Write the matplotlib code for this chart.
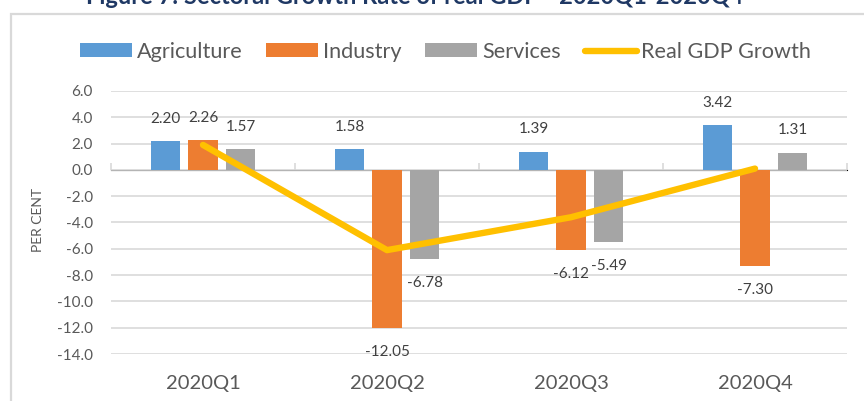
import numpy as np
import matplotlib.pyplot as plt
from matplotlib.patches import Rectangle

plt.rcParams['font.family'] = ['Lato', 'DejaVu Sans']

# data
quarters = ['2020Q1', '2020Q2', '2020Q3', '2020Q4']
agriculture = [2.20, 1.58, 1.39, 3.42]
industry = [2.26, -12.05, -6.12, -7.30]
services = [1.57, -6.78, -5.49, 1.31]
real_gdp = [1.9, -6.1, -3.6, 0.1]

series_names = ['Agriculture', 'Industry', 'Services']
series_colors = ['#5B9BD5', '#ED7D31', '#A5A5A5']
grid_col = '#D9D9D9'
txt_col = '#595959'

fig = plt.figure(figsize=(8.64, 4.01), dpi=100)
ax = fig.add_axes([111/864, 1 - 354/401, (847 - 111)/864, (354 - 91)/401])

x = np.arange(len(quarters))
w = 0.16
step = 0.204
bars = []
for i, (vals, name, col) in enumerate(zip([agriculture, industry, services], series_names, series_colors)):
    b = ax.bar(x + (i - 1) * step, vals, w, color=col, label=name, zorder=2)
    bars.append(b)
    for xi, v in zip(x + (i - 1) * step, vals):
        off = 16 if v >= 0 else -17
        ax.annotate(f'{v:.2f}', (xi, v), xytext=(0, off), textcoords='offset points',
                    ha='center', va='center', fontsize=11, color='#404040')

line, = ax.plot(x, real_gdp, color='#FFC000', lw=4.6, solid_capstyle='round',
                solid_joinstyle='round', label='Real GDP Growth', zorder=3)

ax.set_xlim(-0.5, 3.5)
ax.set_ylim(-14, 6)
ax.set_yticks(np.arange(-14, 7, 2))
ax.yaxis.set_major_formatter(plt.FormatStrFormatter('%.1f'))
ax.grid(axis='y', color=grid_col, lw=1.2, zorder=0)
ax.set_axisbelow(True)
for s in ax.spines.values():
    s.set_visible(False)
ax.tick_params(axis='y', length=0, pad=13, labelsize=11, labelcolor=txt_col)
ax.set_xticks(x)
ax.set_xticklabels(quarters)
ax.tick_params(axis='x', length=0, pad=15, labelsize=14.5, labelcolor=txt_col)

# category axis drawn at zero with boundary ticks
sec = ax.secondary_xaxis(14 / 20)
sec.set_xticks(np.arange(-0.5, 4, 1))
sec.set_xticklabels([])
sec.tick_params(direction='out', length=5, color=grid_col, width=1.2)
sec.spines['bottom'].set_color(grid_col)
sec.spines['bottom'].set_linewidth(1.2)

fig.text(38/864, 1 - 220/401, 'PER CENT', rotation=90, ha='center', va='center',
         fontsize=10, color=txt_col)

fig.legend(handles=bars + [line], labels=series_names + ['Real GDP Growth'],
           loc='center left', bbox_to_anchor=(80/864, 1 - 52/401), ncol=4, frameon=False,
           fontsize=15.6, labelcolor=txt_col, handlelength=2.4, handleheight=0.6,
           handletextpad=0.22, columnspacing=1.1, borderaxespad=0, borderpad=0)

fig.text(86/864, 1 - 4/401, 'Figure 7: Sectoral Growth Rate of real GDP - 2020Q1-2020Q4',
         ha='left', va='baseline', fontsize=17, fontweight='bold', color='#1F3864')

fig.patches.append(Rectangle((11/864, -0.1), 1.2, 1.1 - 13.5/401, transform=fig.transFigure,
                             fill=False, edgecolor=grid_col, lw=1.6))

fig.savefig('out.png', dpi=100)
